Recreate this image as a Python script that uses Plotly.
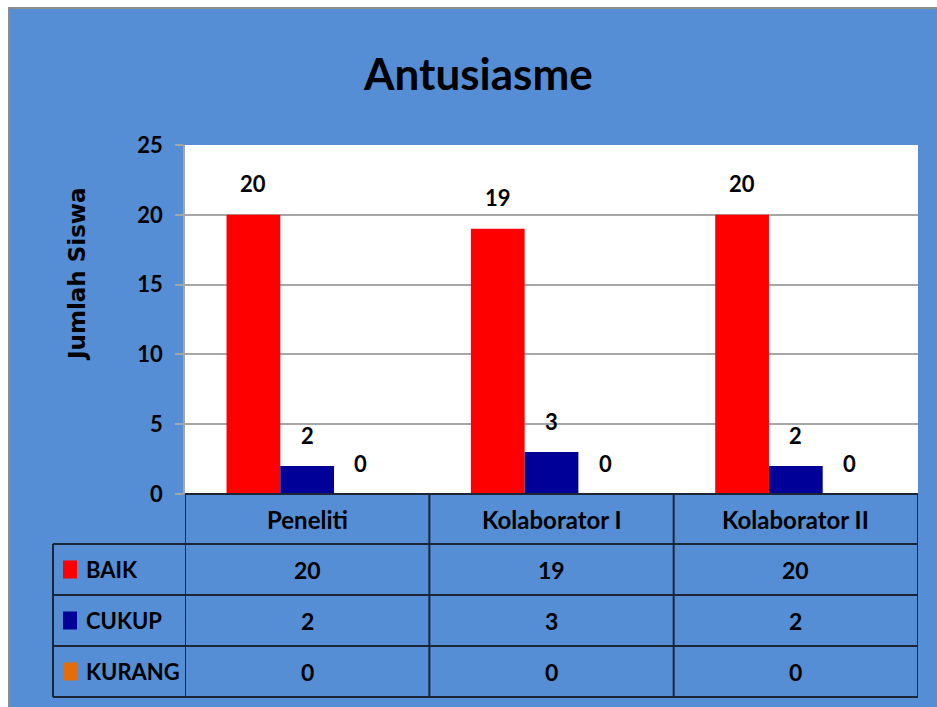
import plotly.graph_objects as go

# data
categories = ["Peneliti", "Kolaborator I", "Kolaborator II"]
series_names = ["BAIK", "CUKUP", "KURANG"]
baik = [20, 19, 20]
cukup = [2, 3, 2]
kurang = [0, 0, 0]
y_ticks = [0, 5, 10, 15, 20, 25]

series = [baik, cukup, kurang]
colors = ["#FF0000", "#000099", "#E46C0A"]

# layout in pixels
W, H = 937, 707
L, R, T, B = 185, 19, 145, 213
PW, PH = W - L - R, H - T - B
BG = "#558ED5"
LINE = "#1B2535"
GRID = "#A6A6A6"
FONT = "Lato"

def xp(px):
    return (px - L) / PW

def yp(py):
    return (H - B - py) / PH

bar_w = 0.22
group_off = -1.5 * bar_w

fig = go.Figure()
for i, (name, vals) in enumerate(zip(series_names, series)):
    fig.add_trace(go.Bar(
        x=list(range(len(categories))),
        y=vals,
        name=name,
        width=bar_w,
        offset=group_off + i * bar_w,
        marker=dict(color=colors[i], line=dict(width=0)),
        showlegend=False,
    ))

annotations = []
shapes = []

# value labels above bars
for i, vals in enumerate(series):
    for k, v in enumerate(vals):
        annotations.append(dict(
            x=k + group_off + (i + 0.5) * bar_w, y=v, xref="x", yref="y",
            xanchor="center", yanchor="middle",
            text=str(v), showarrow=False, yshift=31,
            font=dict(family=FONT, size=22, color="black", weight="bold"),
        ))

# table under the plot
header_h = 50
row_h = 51
top = H - B
row_edges = [top, top + header_h] + [top + header_h + row_h * (j + 1) for j in range(len(series))]
tline = dict(color=LINE, width=2)

shapes.append(dict(type="line", xref="x", yref="paper", x0=-0.5, x1=2.5,
                   y0=yp(row_edges[0]), y1=yp(row_edges[0]), line=tline))
for py in row_edges[1:]:
    shapes.append(dict(type="line", xref="paper", yref="paper", x0=xp(53), x1=1,
                       y0=yp(py), y1=yp(py), line=tline))
for b in [-0.5, 0.5, 1.5, 2.5]:
    shapes.append(dict(type="line", xref="x", yref="paper", x0=b, x1=b,
                       y0=yp(row_edges[0]), y1=yp(row_edges[-1]), line=tline))
shapes.append(dict(type="line", xref="paper", yref="paper", x0=xp(53), x1=xp(53),
                   y0=yp(row_edges[1]), y1=yp(row_edges[-1]), line=tline))

head_font = dict(family=FONT, size=24, color="black", weight="bold")
cell_font = dict(family=FONT, size=23, color="black", weight="bold")
label_font = dict(family=FONT, size=22, color="black", weight="bold")
for k, c in enumerate(categories):
    annotations.append(dict(x=k, y=yp((row_edges[0] + row_edges[1]) / 2), xref="x", yref="paper",
                            xanchor="center", yanchor="middle",
                            text=c, showarrow=False, font=head_font))
for j, (name, vals) in enumerate(zip(series_names, series)):
    ymid = (row_edges[j + 1] + row_edges[j + 2]) / 2
    for k, v in enumerate(vals):
        annotations.append(dict(x=k, y=yp(ymid), xref="x", yref="paper",
                                xanchor="center", yanchor="middle",
                                text=str(v), showarrow=False, font=cell_font))
    shapes.append(dict(type="rect", xref="paper", yref="paper", x0=xp(63), x1=xp(77),
                       y0=yp(ymid + 9), y1=yp(ymid - 9), fillcolor=colors[j], line=dict(width=0)))
    annotations.append(dict(x=xp(84), y=yp(ymid), xref="paper", yref="paper",
                            xanchor="left", yanchor="middle",
                            text=name, showarrow=False, font=label_font))

# axis title
annotations.append(dict(x=xp(77), y=yp(274), xref="paper", yref="paper", text="Jumlah Siswa",
                        xanchor="center", yanchor="middle", textangle=-90, showarrow=False,
                        font=dict(family="DejaVu Sans", size=23, color="black", weight="bold")))
# title
annotations.append(dict(x=xp(478), y=yp(73), xref="paper", yref="paper", text="Antusiasme",
                        xanchor="center", yanchor="middle", showarrow=False,
                        font=dict(family=FONT, size=44, color="black", weight="bold")))

# outer frame: white edge with a grey border at top/left
shapes.append(dict(type="rect", xref="paper", yref="paper", x0=xp(0), x1=xp(W), y0=yp(7), y1=yp(0),
                   fillcolor="white", line=dict(width=0)))
shapes.append(dict(type="rect", xref="paper", yref="paper", x0=xp(0), x1=xp(8), y0=yp(H), y1=yp(0),
                   fillcolor="white", line=dict(width=0)))
shapes.append(dict(type="line", xref="paper", yref="paper", x0=xp(8), x1=xp(W), y0=yp(8), y1=yp(8),
                   line=dict(color="#8C8C8C", width=2)))
shapes.append(dict(type="line", xref="paper", yref="paper", x0=xp(9), x1=xp(9), y0=yp(H), y1=yp(7),
                   line=dict(color="#8C8C8C", width=2)))

fig.update_layout(
    width=W, height=H,
    margin=dict(l=L, r=R, t=T, b=B, pad=0),
    paper_bgcolor=BG,
    plot_bgcolor="white",
    barmode="overlay",
    annotations=annotations,
    shapes=shapes,
    font=dict(family=FONT, color="black"),
)
fig.update_xaxes(range=[-0.5, 2.5], showticklabels=False, showgrid=False, zeroline=False,
                 showline=False, ticks="")
fig.update_yaxes(range=[0, 25], tickvals=y_ticks, showgrid=True, gridcolor=GRID, gridwidth=1.5,
                 zeroline=False, showline=True, linecolor=GRID, linewidth=1.5,
                 ticks="outside", ticklen=8, tickcolor=GRID, tickwidth=1.5,
                 ticklabelstandoff=8,
                 tickfont=dict(family=FONT, size=22, color="black", weight="bold"))

# page body margin off so the figure sits at the window's top-left corner
fig.write_html("out.html", config={"displayModeBar": False},
               post_script="document.body.style.margin='0px';")
